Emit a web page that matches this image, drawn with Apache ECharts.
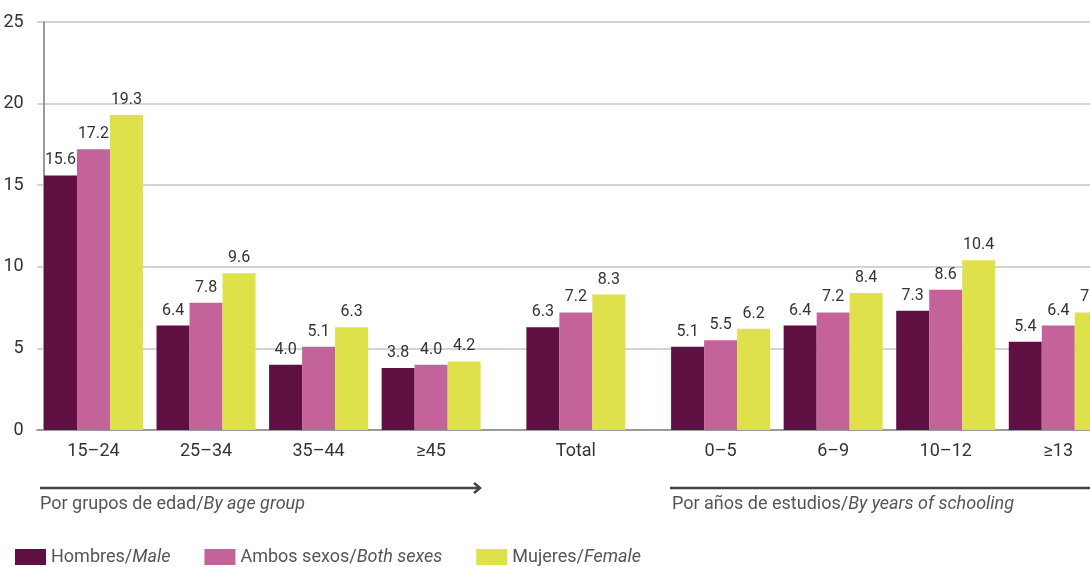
<!DOCTYPE html>
<html>
<head>
<meta charset="utf-8">
<script src="https://cdn.jsdelivr.net/npm/echarts@6/dist/echarts.min.js"></script>
<style>
  html, body { margin: 0; padding: 0; background: #fff; overflow: hidden; }
  /* the chart runs past the right edge of the frame, as in the original */
  #chart { width: 1130px; height: 567px; }
</style>
</head>
<body>
<div id="chart"></div>
<script>
// data
var categories = ['15–24', '25–34', '35–44', '≥45', 'Total', '0–5', '6–9', '10–12', '≥13'];
var male   = [15.6, 6.4, 4.0, 3.8, 6.3, 5.1, 6.4, 7.3, 5.4];
var both   = [17.2, 7.8, 5.1, 4.0, 7.2, 5.5, 7.2, 8.6, 6.4];
var female = [19.3, 9.6, 6.3, 4.2, 8.3, 6.2, 8.4, 10.4, 7.2];
var yTicks = [0, 5, 10, 15, 20, 25];

// sections: age groups | total | years of schooling
var sections = [4, 1, 4];
var groupSlots = 7, gapSlots = 2;

// build a fine category axis so the Total group can sit in a wider gap
var axisCats = [], centerIdx = [], tickIdx = {};
var pos = 0;
sections.forEach(function (n, s) {
  if (s > 0) { pos += gapSlots / 2; tickIdx[pos] = true; pos += gapSlots / 2; }
  for (var k = 0; k < n; k++) {
    if (k > 0) tickIdx[pos] = true;
    centerIdx.push(pos + (groupSlots - 1) / 2);
    pos += groupSlots;
  }
});
for (var i = 0; i < pos; i++) axisCats.push('');
centerIdx.forEach(function (idx, j) { axisCats[idx] = categories[j]; });

function spread(vals) {
  var arr = axisCats.map(function () { return '-'; });
  centerIdx.forEach(function (idx, j) { arr[idx] = vals[j]; });
  return arr;
}

var font = 'Roboto, "DejaVu Sans", sans-serif';
var colors = ['#5f0f41', '#c4639a', '#dfe14b'];

function barSeries(name, vals, color) {
  return {
    name: name,
    type: 'bar',
    data: spread(vals),
    barWidth: 33,
    barGap: '0%',
    itemStyle: { color: color },
    label: {
      show: true,
      position: 'top',
      distance: 7,
      color: '#333',
      fontFamily: font,
      fontSize: 16,
      formatter: function (p) { return Number(p.value).toFixed(1); }
    }
  };
}

var chartDom = document.getElementById('chart');
var myChart = echarts.init(chartDom);
var option = {
  animation: false,
  color: colors,
  grid: { left: 37.2, top: 22, width: 16.08 * pos, height: 408, containLabel: false },
  xAxis: {
    type: 'category',
    data: axisCats,
    axisLine: { lineStyle: { color: '#9a9a9a', width: 2 } },
    axisTick: {
      length: 7,
      lineStyle: { color: '#9a9a9a', width: 1.5 },
      interval: function (index) { return !!tickIdx[index]; }
    },
    axisLabel: { interval: 0, color: '#333', fontFamily: font, fontSize: 18, margin: 12 }
  },
  yAxis: {
    type: 'value',
    min: yTicks[0],
    max: yTicks[yTicks.length - 1],
    interval: 5,
    offset: -6.5,
    axisLine: { show: true, lineStyle: { color: '#9a9a9a', width: 2 } },
    axisTick: { show: false },
    axisLabel: { color: '#333', fontFamily: font, fontSize: 18, margin: 20 },
    splitLine: { lineStyle: { color: '#c4c4c4', width: 1.5 } }
  },
  legend: {
    left: 10,
    top: 543,
    itemWidth: 31,
    itemHeight: 16,
    itemGap: 34,
    icon: 'rect',
    textStyle: {
      color: '#555',
      fontFamily: font,
      fontSize: 18,
      rich: {
        n: { color: '#555', fontFamily: font, fontSize: 18 },
        i: { color: '#555', fontFamily: font, fontSize: 18, fontStyle: 'italic' }
      }
    },
    formatter: function (name) {
      var parts = name.split('/');
      return '{n|' + parts[0] + '/}{i|' + parts[1] + '}';
    },
    data: ['Hombres/Male', 'Ambos sexos/Both sexes', 'Mujeres/Female']
  },
  graphic: [
    { type: 'line', shape: { x1: 40, y1: 488, x2: 480, y2: 488 }, style: { stroke: '#444', lineWidth: 2.5 } },
    { type: 'polyline', shape: { points: [[474, 483], [480, 488], [474, 493]] }, style: { stroke: '#444', lineWidth: 2.5, fill: null } },
    { type: 'text', left: 40, top: 495, style: { rich: { n: { fill: '#555', font: '18px ' + font }, i: { fill: '#555', font: 'italic 18px ' + font } }, text: '{n|Por grupos de edad/}{i|By age group}' } },
    { type: 'line', shape: { x1: 670, y1: 488, x2: 1130, y2: 488 }, style: { stroke: '#444', lineWidth: 2.5 } },
    { type: 'text', left: 672, top: 495, style: { rich: { n: { fill: '#555', font: '18px ' + font }, i: { fill: '#555', font: 'italic 18px ' + font } }, text: '{n|Por años de estudios/}{i|By years of schooling}' } }
  ],
  series: [
    barSeries('Hombres/Male', male, colors[0]),
    barSeries('Ambos sexos/Both sexes', both, colors[1]),
    barSeries('Mujeres/Female', female, colors[2])
  ]
};

if (option && typeof option === 'object') {
  myChart.setOption(option);
}
window.addEventListener('resize', myChart.resize);
</script>
</body>
</html>
